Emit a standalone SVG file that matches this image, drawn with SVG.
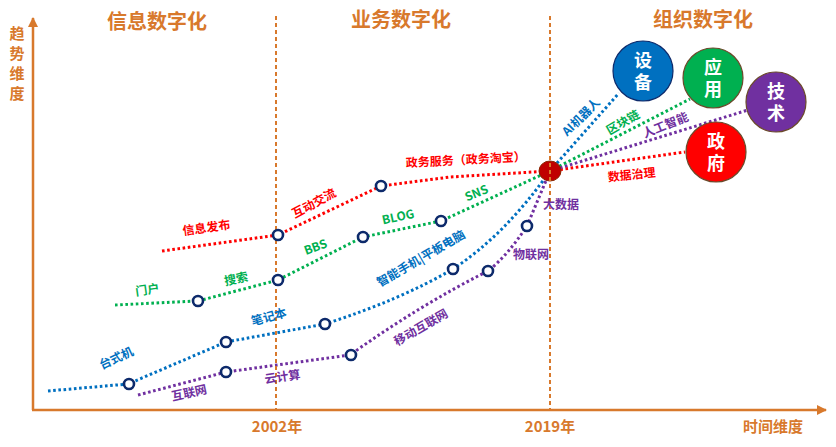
<svg xmlns="http://www.w3.org/2000/svg" width="836" height="447" viewBox="0 0 836 447">
<defs>
<style>
.ax{stroke:#D8792C;stroke-width:2.5;fill:none}
.vd{stroke:#D8792C;stroke-width:2;stroke-dasharray:4 3;fill:none}
.t{font-family:"Noto Sans CJK SC","Liberation Sans",sans-serif;font-weight:bold}
.ttl{font-size:20px;fill:#D8792C;text-anchor:middle}
.axl{font-size:15px;fill:#D8792C;text-anchor:middle}
.vt{writing-mode:vertical-rl;text-orientation:upright}
.lb{font-size:12px;text-anchor:middle}
.ln{fill:none;stroke-width:3;stroke-dasharray:2.6 2.6;stroke-linejoin:round}
.r{stroke:#FF0000}.g{stroke:#00B050}.b{stroke:#0070C0}.p{stroke:#7030A0}
.fr{fill:#FF0000}.fg{fill:#00B050}.fb{fill:#0070C0}.fp{fill:#7030A0}
.pt{fill:#fff;stroke:#0D2A6B;stroke-width:2.6}
.big{stroke-width:1.2}
.bt{font-size:18px;fill:#fff;text-anchor:middle;letter-spacing:4px}
</style>
<marker id="ah" viewBox="0 0 10 10" refX="9" refY="5" markerWidth="4" markerHeight="4" orient="auto"><path d="M0,0 L10,5 L0,10 z" fill="#D8792C"/></marker>
</defs>
<rect width="836" height="447" fill="#fff"/>

<!-- axes -->
<g id="axes">
<line class="ax" x1="33" y1="410" x2="33" y2="18" marker-end="url(#ah)"/>
<line class="ax" x1="32" y1="410" x2="826" y2="410" marker-end="url(#ah)"/>
<text class="t axl vt" x="17" y="66" style="letter-spacing:5px">趋势维度</text>
<text class="t axl" x="277" y="432">2002年</text>
<text class="t axl" x="550" y="432">2019年</text>
<text class="t axl" x="773" y="432">时间维度</text>
<text class="t ttl" x="157" y="29">信息数字化</text>
<text class="t ttl" x="401" y="27">业务数字化</text>
<text class="t ttl" x="703" y="27">组织数字化</text>
</g>

<!-- connectors -->
<g id="connectors">
<polyline class="ln r" points="162,251 278,235 381,186 450,177 550,171"/>
<polyline class="ln r" points="550,171 685,152"/>
<polyline class="ln g" points="115,305 198,301 278,280 363,237 441,221 550,171"/>
<polyline class="ln g" points="550,171 690,99"/>
<path class="ln b" d="M48,391 L128,384 L226,342 L325,324 Q400,300 453,269 Q505,235 550,171"/>
<polyline class="ln b" points="550,171 619,93"/>
<path class="ln p" d="M138,395 L226,372 L350,355 Q420,305 488,271 Q508,255 527,226 L550,171"/>
<polyline class="ln p" points="550,171 748,110"/>
</g>

<g id="hub">
<ellipse cx="550" cy="171" rx="11" ry="10" fill="#C00000" stroke="#8B2500" stroke-width="1"/>
</g>

<g id="dividers">
<line class="vd" x1="276" y1="16" x2="276" y2="409"/>
<line class="vd" x1="550" y1="16" x2="550" y2="409"/>
</g>

<g id="points">
<circle class="pt" cx="278" cy="235" r="5"/>
<circle class="pt" cx="381" cy="186" r="5"/>
<circle class="pt" cx="198" cy="301" r="5"/>
<circle class="pt" cx="278" cy="280" r="5"/>
<circle class="pt" cx="363" cy="237" r="5"/>
<circle class="pt" cx="441" cy="221" r="5"/>
<circle class="pt" cx="129" cy="384" r="5"/>
<circle class="pt" cx="226" cy="342" r="5"/>
<circle class="pt" cx="325" cy="324" r="5"/>
<circle class="pt" cx="453" cy="269" r="5"/>
<circle class="pt" cx="226" cy="372" r="5"/>
<circle class="pt" cx="351" cy="355" r="5"/>
<circle class="pt" cx="488" cy="271" r="5"/>
<circle class="pt" cx="527" cy="226" r="5"/>
</g>

<!-- labels -->
<g id="labels">
<text class="t lb fr" transform="translate(207,232) rotate(-8)">信息发布</text>
<text class="t lb fr" transform="translate(316,207) rotate(-28)">互动交流</text>
<text class="t lb fr" transform="translate(466,164) rotate(-3)">政务服务（政务淘宝）</text>
<text class="t lb fr" transform="translate(632,179) rotate(-6)">数据治理</text>
<text class="t lb fg" transform="translate(148,294) rotate(-8)">门户</text>
<text class="t lb fg" transform="translate(237,283) rotate(-12)">搜索</text>
<text class="t lb fg" transform="translate(317,251) rotate(-20)">BBS</text>
<text class="t lb fg" transform="translate(399,221) rotate(-12)">BLOG</text>
<text class="t lb fg" transform="translate(478,197) rotate(-22)">SNS</text>
<text class="t lb fg" transform="translate(625,126) rotate(-30)">区块链</text>
<text class="t lb fb" transform="translate(118,362) rotate(-25)">台式机</text>
<text class="t lb fb" transform="translate(270,321) rotate(-15)">笔记本</text>
<text class="t lb fb" transform="translate(423,262) rotate(-30)">智能手机|平板电脑</text>
<text class="t lb fb" transform="translate(584,120) rotate(-45)">AI机器人</text>
<text class="t lb fp" transform="translate(190,397) rotate(-12)">互联网</text>
<text class="t lb fp" transform="translate(283,381) rotate(-8)">云计算</text>
<text class="t lb fp" transform="translate(423,331) rotate(-30)">移动互联网</text>
<text class="t lb fp" x="531" y="259">物联网</text>
<text class="t lb fp" x="561" y="209">大数据</text>
<text class="t lb fp" transform="translate(667,129) rotate(-22)">人工智能</text>
</g>

<g id="node-shebei">
<circle class="big" cx="643" cy="71" r="30" fill="#0070C0" stroke="#0D2A6B"/>
<text class="t bt vt" x="643" y="73">设备</text>
</g>
<g id="node-yingyong">
<circle class="big" cx="713" cy="78" r="30" fill="#00B050" stroke="#6B4A2B"/>
<text class="t bt vt" x="713" y="80">应用</text>
</g>
<g id="node-jishu">
<circle class="big" cx="776" cy="102" r="30" fill="#7030A0" stroke="#6B4A2B"/>
<text class="t bt vt" x="776" y="104">技术</text>
</g>
<g id="node-zhengfu">
<circle class="big" cx="716" cy="152" r="30" fill="#FF0000" stroke="#6B4A2B"/>
<text class="t bt vt" x="716" y="154">政府</text>
</g>
</svg>
